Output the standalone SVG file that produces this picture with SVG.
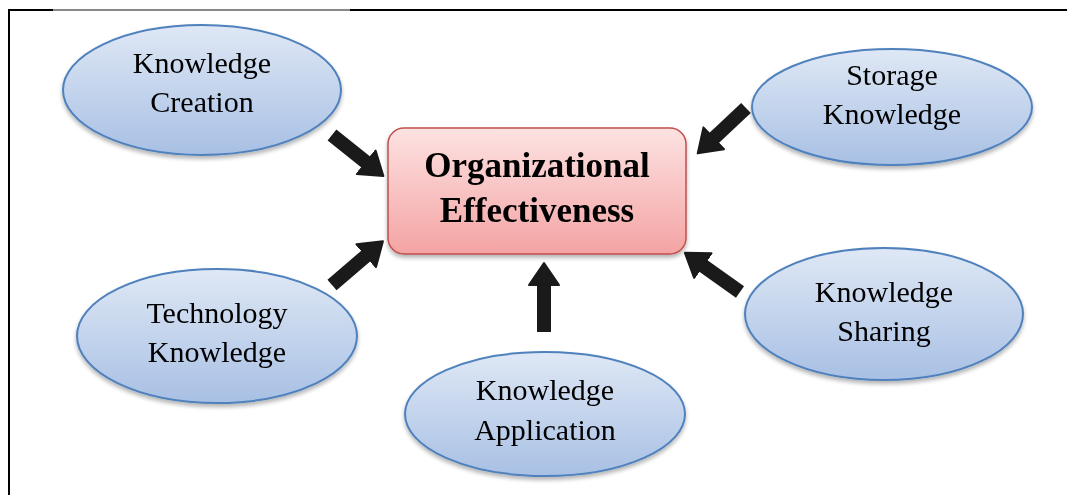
<svg xmlns="http://www.w3.org/2000/svg" width="1067" height="495" viewBox="0 0 1067 495">
<style>
.oval{fill:url(#blue);stroke:#4f81bd;stroke-width:2}
.lbl{font-family:"Liberation Serif","Times New Roman",serif;font-size:30px;fill:#000;text-anchor:middle}
.main{font-family:"Liberation Serif","Times New Roman",serif;font-size:35px;font-weight:bold;fill:#000;text-anchor:middle}
.arr{stroke:#1a1a1a;stroke-width:14;fill:none;marker-end:url(#head)}
</style>
<defs>
<linearGradient id="blue" x1="0" y1="0" x2="0" y2="1">
<stop offset="0" stop-color="#dfe8f5"/>
<stop offset="1" stop-color="#a8c0e4"/>
</linearGradient>
<linearGradient id="pink" x1="0" y1="0" x2="0" y2="1">
<stop offset="0" stop-color="#fde2e2"/>
<stop offset="1" stop-color="#f4a3a3"/>
</linearGradient>
<filter id="sh" x="-10%" y="-10%" width="120%" height="130%">
<feGaussianBlur in="SourceAlpha" stdDeviation="2"/>
<feOffset dy="3"/>
<feComponentTransfer><feFuncA type="linear" slope="0.3"/></feComponentTransfer>
<feMerge><feMergeNode/><feMergeNode in="SourceGraphic"/></feMerge>
</filter>
<marker id="head" markerUnits="userSpaceOnUse" markerWidth="34" markerHeight="34" refX="2" refY="17" orient="auto">
<path d="M1,2 L23,17 L1,32 Z" fill="#1a1a1a" stroke="#1a1a1a" stroke-width="2" stroke-linejoin="round"/>
</marker>
</defs>
<rect width="1067" height="495" fill="#ffffff"/>
<g id="frame">
<line x1="9" y1="10" x2="1067" y2="10" stroke="#000" stroke-width="2"/>
<line x1="53" y1="10" x2="350" y2="10" stroke="#888" stroke-width="2"/>
<line x1="9" y1="9" x2="9" y2="495" stroke="#000" stroke-width="2"/>
</g>
<g id="connectors">
<path class="arr" d="M332,135 L367,163"/>
<path class="arr" d="M332,285 L367,255"/>
<path class="arr" d="M544,332 L544,284"/>
<path class="arr" d="M746,108 L713,139"/>
<path class="arr" d="M740,292 L702,265"/>
</g>
<g id="center" filter="url(#sh)">
<rect x="388" y="128" width="298" height="126" rx="16" fill="url(#pink)" stroke="#c0504d" stroke-width="1.5"/>
<text class="main" x="537" y="177">Organizational</text>
<text class="main" x="537" y="222">Effectiveness</text>
</g>
<g id="creation" filter="url(#sh)">
<ellipse class="oval" cx="202" cy="90" rx="139" ry="65"/>
<text class="lbl" x="202" y="73">Knowledge</text>
<text class="lbl" x="202" y="112">Creation</text>
</g>
<g id="storage" filter="url(#sh)">
<ellipse class="oval" cx="892" cy="107" rx="140" ry="58"/>
<text class="lbl" x="892" y="85">Storage</text>
<text class="lbl" x="892" y="124">Knowledge</text>
</g>
<g id="technology" filter="url(#sh)">
<ellipse class="oval" cx="217" cy="336" rx="140" ry="67"/>
<text class="lbl" x="217" y="323">Technology</text>
<text class="lbl" x="217" y="362">Knowledge</text>
</g>
<g id="application" filter="url(#sh)">
<ellipse class="oval" cx="545" cy="414" rx="140" ry="62"/>
<text class="lbl" x="545" y="400">Knowledge</text>
<text class="lbl" x="545" y="440">Application</text>
</g>
<g id="sharing" filter="url(#sh)">
<ellipse class="oval" cx="884" cy="314" rx="139" ry="66"/>
<text class="lbl" x="884" y="302">Knowledge</text>
<text class="lbl" x="884" y="341">Sharing</text>
</g>
</svg>
